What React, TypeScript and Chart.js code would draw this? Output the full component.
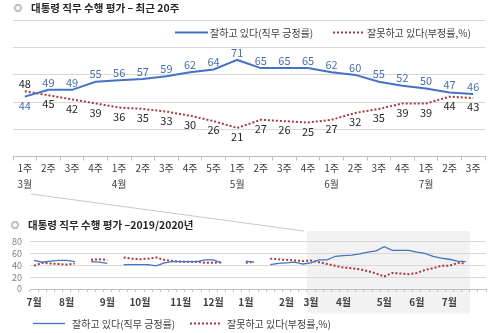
import React, { useEffect, useRef } from 'react';
import { Chart, registerables } from 'chart.js';
Chart.register(...registerables);

const FONT = "'Noto Sans CJK KR', 'Noto Sans', sans-serif";

// ---- Top chart (recent 20 weeks) ----
const TOP_WEEKS = ['1주', '2주', '3주', '4주', '1주', '2주', '3주', '4주', '5주', '1주', '2주', '3주', '4주', '1주', '2주', '3주', '4주', '1주', '2주', '3주'];
const TOP_MONTHS = ['3월', '', '', '', '4월', '', '', '', '', '5월', '', '', '', '6월', '', '', '', '7월', '', ''];
const TOP_POS = [44, 49, 49, 55, 56, 57, 59, 62, 64, 71, 65, 65, 65, 62, 60, 55, 52, 50, 47, 46];
const TOP_NEG = [48, 45, 42, 39, 36, 35, 33, 30, 26, 21, 27, 26, 25, 27, 32, 35, 39, 39, 44, 43];
const TOP_Y_TICKS = [0, 20, 40, 60, 80, 100];

// ---- Bottom chart (2019/2020 weekly) ----
const HIST_POS = [48, 45, 47, 48, 48, 46, null, 46, 45, 43, null, 41, 41, 41, 41, 39, 44, 46, 46, 46, 46, 49, 49, 44, null, null, 47, 45, null, 41, 43, 44, 45, 42];
const HIST_NEG = [39, 44, 43, 42, 41, 43, null, 49, 50, 49, null, 53, 51, 50, 51, 53, 49, 47, 46, 46, 46, 44, 44, 45, null, null, 44, 46, null, 51, 50, 49, 48, 47];
const TRAILING = [null, null];
const BOTTOM_MONTHS = ['7월', '8월', '9월', '10월', '11월', '12월', '1월', '2월', '3월', '4월', '5월', '6월', '7월'];
const BOTTOM_MONTH_AT = [0, 4, 9, 13, 18, 22, 26, 31, 34, 38, 43, 47, 51];
const BOTTOM_Y_TICKS = [0, 20, 40, 60, 80];

const POS_LABEL = '잘하고 있다(직무 긍정률)';
const NEG_LABEL = '잘못하고 있다(부정률,%)';

const BLUE = '#4472C4';
const RED = '#A33B3B';

const valueLabelPlugin = {
  id: 'valueLabels',
  afterDatasetsDraw(chart: any) {
    const { ctx } = chart;
    const sets = chart.data.datasets;
    ctx.save();
    ctx.font = `11px ${FONT}`;
    ctx.textAlign = 'center';
    ctx.textBaseline = 'middle';
    sets.forEach((ds: any, di: number) => {
      const meta = chart.getDatasetMeta(di);
      meta.data.forEach((el: any, i: number) => {
        const v = ds.data[i];
        const other = sets[1 - di].data[i];
        const above = v >= other;
        ctx.fillStyle = ds.labelColor;
        ctx.fillText(String(v), el.x, el.y + (above ? -7.5 : 9));
      });
    });
    ctx.restore();
  },
};

const shadePlugin = {
  id: 'shade',
  beforeDraw(chart: any) {
    const x = chart.scales.x;
    const n = chart.data.labels.length;
    const w = (x.right - x.left) / n;
    const start = x.left + w * HIST_POS.length;
    const end = x.left + w * (HIST_POS.length + TOP_POS.length);
    const { ctx } = chart;
    ctx.save();
    ctx.fillStyle = '#f2f2f2';
    ctx.fillRect(start, 3, end - start, 82.5);
    ctx.restore();
  },
};

export default function App() {
  const topRef = useRef<HTMLCanvasElement>(null);
  const botRef = useRef<HTMLCanvasElement>(null);

  useEffect(() => {
    Chart.defaults.font.family = FONT;
    const topLabels = TOP_WEEKS.map((w, i) => (TOP_MONTHS[i] ? [w, TOP_MONTHS[i]] : [w]));
    const top = new Chart(topRef.current!, {
      type: 'line',
      data: {
        labels: topLabels,
        datasets: [
          { label: POS_LABEL, data: TOP_POS, borderColor: BLUE, borderWidth: 2, pointRadius: 0, tension: 0, labelColor: '#4a6ea9' } as any,
          { label: NEG_LABEL, data: TOP_NEG, borderColor: RED, borderWidth: 2, borderDash: [2, 2], pointRadius: 0, tension: 0, labelColor: '#262626' } as any,
        ],
      },
      options: {
        responsive: false,
        animation: false,
        layout: { padding: { left: 13, right: 15, top: 20.5, bottom: 0 } },
        plugins: { legend: { display: false }, tooltip: { enabled: false }, title: { display: false } },
        scales: {
          x: {
            type: 'category',
            offset: true,
            border: { display: true, color: '#bfbfbf' },
            grid: { display: true, drawOnChartArea: false, drawTicks: true, tickLength: 4, offset: true, color: '#bfbfbf' },
            ticks: { autoSkip: false, maxRotation: 0, minRotation: 0, padding: 0, color: '#404040', font: { size: 10, lineHeight: 1.57 } },
            afterFit: (s: any) => { s.height = 38.5; },
          },
          y: {
            min: 0,
            max: 100,
            afterBuildTicks: (s: any) => { s.ticks = TOP_Y_TICKS.map((v) => ({ value: v })); },
            border: { display: false },
            grid: { drawTicks: false, color: (c: any) => (c.tick && c.tick.value === 0 ? 'rgba(0,0,0,0)' : '#d9d9d9') },
            ticks: { display: false, autoSkip: false },
            afterFit: (s: any) => { s.width = 0; },
          },
        },
      },
      plugins: [valueLabelPlugin],
    });

    const botPos = [...HIST_POS, ...TOP_POS, ...TRAILING];
    const botNeg = [...HIST_NEG, ...TOP_NEG, ...TRAILING];
    const botLabels = botPos.map(() => '');
    BOTTOM_MONTH_AT.forEach((idx, k) => { botLabels[idx] = BOTTOM_MONTHS[k]; });

    const bot = new Chart(botRef.current!, {
      type: 'line',
      data: {
        labels: botLabels,
        datasets: [
          { label: POS_LABEL, data: botPos, borderColor: BLUE, borderWidth: 1.3, pointRadius: 0, tension: 0, spanGaps: false },
          { label: NEG_LABEL, data: botNeg, borderColor: RED, borderWidth: 2, borderDash: [2, 2], pointRadius: 0, tension: 0, spanGaps: false },
        ],
      },
      options: {
        responsive: false,
        animation: false,
        layout: { padding: { left: 0, right: 14, top: 12, bottom: 0 } },
        plugins: { legend: { display: false }, tooltip: { enabled: false } },
        scales: {
          x: {
            type: 'category',
            offset: true,
            border: { display: true, color: '#bfbfbf' },
            grid: { display: true, drawOnChartArea: false, drawTicks: true, tickLength: 3, offset: true, color: '#bfbfbf' },
            ticks: { autoSkip: false, maxRotation: 0, minRotation: 0, padding: 4, color: '#404040', font: { size: 10, weight: 'bold' } },
            afterFit: (s: any) => { s.height = 29; },
          },
          y: {
            min: 0,
            max: 80,
            afterBuildTicks: (s: any) => { s.ticks = BOTTOM_Y_TICKS.map((v) => ({ value: v })); },
            border: { display: false },
            grid: { drawTicks: false, color: (c: any) => (c.tick && c.tick.value === 0 ? 'rgba(0,0,0,0)' : '#d9d9d9') },
            ticks: { autoSkip: false, padding: 8, color: '#7f7f7f', font: { size: 9 } },
            afterFit: (s: any) => { s.width = 30; },
          },
        },
      },
      plugins: [shadePlugin],
    });

    return () => { top.destroy(); bot.destroy(); };
  }, []);

  const txt = (left: number, cy: number, text: string, size: number, bold = false, color = '#404040') => (
    <div style={{ position: 'absolute', left, top: cy - 7, height: 14, lineHeight: '14px', fontSize: size, fontWeight: bold ? 'bold' : 'normal', color, whiteSpace: 'nowrap', fontFamily: FONT }}>{text}</div>
  );

  return (
    <div style={{ position: 'absolute', left: 0, top: 0, width: 500, height: 333, background: '#fff', overflow: 'hidden' }}>
      <canvas ref={topRef} width={500} height={195} style={{ position: 'absolute', left: 0, top: 0 }} />
      <canvas ref={botRef} width={500} height={90} style={{ position: 'absolute', left: 0, top: 228 }} />
      <svg width={500} height={333} style={{ position: 'absolute', left: 0, top: 0, pointerEvents: 'none' }}>
        <line x1={31} y1={194} x2={304} y2={231} stroke="#c8c8c8" strokeWidth={1} />
        <line x1={175} y1={32.5} x2={208} y2={32.5} stroke={BLUE} strokeWidth={2} />
        <line x1={333} y1={32.5} x2={364} y2={32.5} stroke={RED} strokeWidth={2} strokeDasharray="2 2" />
        <line x1={33} y1={323.5} x2={65} y2={323.5} stroke={BLUE} strokeWidth={1.3} />
        <line x1={190} y1={323.5} x2={222} y2={323.5} stroke={RED} strokeWidth={2} strokeDasharray="2 2" />
      </svg>
      {txt(14, 7.5, '◎', 8, false, '#262626')}
      {txt(31, 7.5, '대통령 직무 수행 평가 – 최근 20주', 10.5, true, '#262626')}
      {txt(210, 32.5, POS_LABEL, 10)}
      {txt(367, 32.5, NEG_LABEL, 10)}
      {txt(11, 224.5, '◎', 8, false, '#262626')}
      {txt(28, 224.5, '대통령 직무 수행 평가 –2019/2020년', 10.5, true, '#262626')}
      {txt(72, 323.5, POS_LABEL, 10)}
      {txt(227, 323.5, NEG_LABEL, 10)}
    </div>
  );
}
